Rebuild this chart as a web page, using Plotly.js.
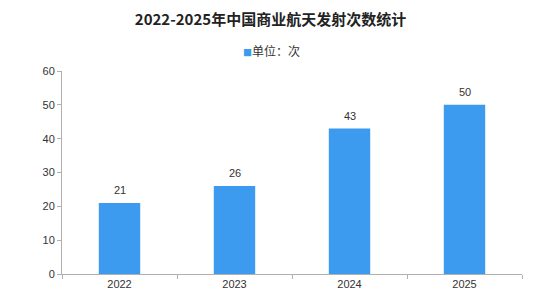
<!DOCTYPE html>
<html><head><meta charset="utf-8">
<script src="https://cdn.plot.ly/plotly-3.0.1.min.js"></script>
<style>html,body{margin:0;padding:0;background:#fff;}#chart{width:552px;height:300px;}</style>
</head><body><div id="chart"></div>
<script>
const years = ['2022', '2023', '2024', '2025'];
const launches = [21, 26, 43, 50];
const seriesName = '单位：次';
const titleText = '2022-2025年中国商业航天发射次数统计';
const barColor = '#3d9bef';

const trace = {
  type: 'bar',
  x: years,
  y: launches,
  name: seriesName,
  marker: {color: barColor},
  width: 0.36,
  showlegend: false
};

const valueLabels = years.map((yr, i) => ({
  x: i, y: launches[i], xref: 'x', yref: 'y',
  text: String(launches[i]), showarrow: false,
  yanchor: 'bottom', yshift: 5,
  font: {family: 'Liberation Sans, Arial, sans-serif', size: 11, color: '#333'}
}));

const legendNote = {
  xref: 'paper', yref: 'paper', x: (271 - 62) / 460, y: 1.103,
  xanchor: 'center', yanchor: 'middle', showarrow: false,
  text: '<span style="color:' + barColor + ';font-size:9px">■</span>' + seriesName,
  font: {family: 'Noto Sans CJK SC, sans-serif', size: 12, color: '#333'}
};

const layout = {
  width: 552, height: 300,
  margin: {l: 62, r: 30, t: 71, b: 26},
  paper_bgcolor: '#fff', plot_bgcolor: '#fff',
  title: {text: '<b>' + titleText + '</b>', x: 0.49, xanchor: 'center', y: 0.935, yanchor: 'middle',
    font: {family: 'Noto Sans CJK SC, sans-serif', size: 15, color: '#222'}},
  showlegend: false,
  annotations: valueLabels.concat([legendNote]),
  xaxis: {type: 'category', categoryorder: 'array', categoryarray: years, range: [-0.5, 3.5],
    showline: true, linecolor: '#b0b0b0', linewidth: 1,
    ticks: 'outside', tickson: 'boundaries', ticklen: 4, tickcolor: '#b0b0b0',
    tickfont: {family: 'Liberation Sans, Arial, sans-serif', size: 11, color: '#333'},
    showgrid: false, zeroline: false, fixedrange: true},
  yaxis: {range: [0, 60], dtick: 10, showline: true, linecolor: '#b0b0b0', linewidth: 1,
    ticks: 'outside', ticklen: 4, tickcolor: '#b0b0b0',
    tickfont: {family: 'Liberation Sans, Arial, sans-serif', size: 11, color: '#333'},
    showgrid: false, zeroline: false, fixedrange: true}
};

Plotly.newPlot('chart', [trace], layout, {displayModeBar: false, staticPlot: true});
</script></body></html>
